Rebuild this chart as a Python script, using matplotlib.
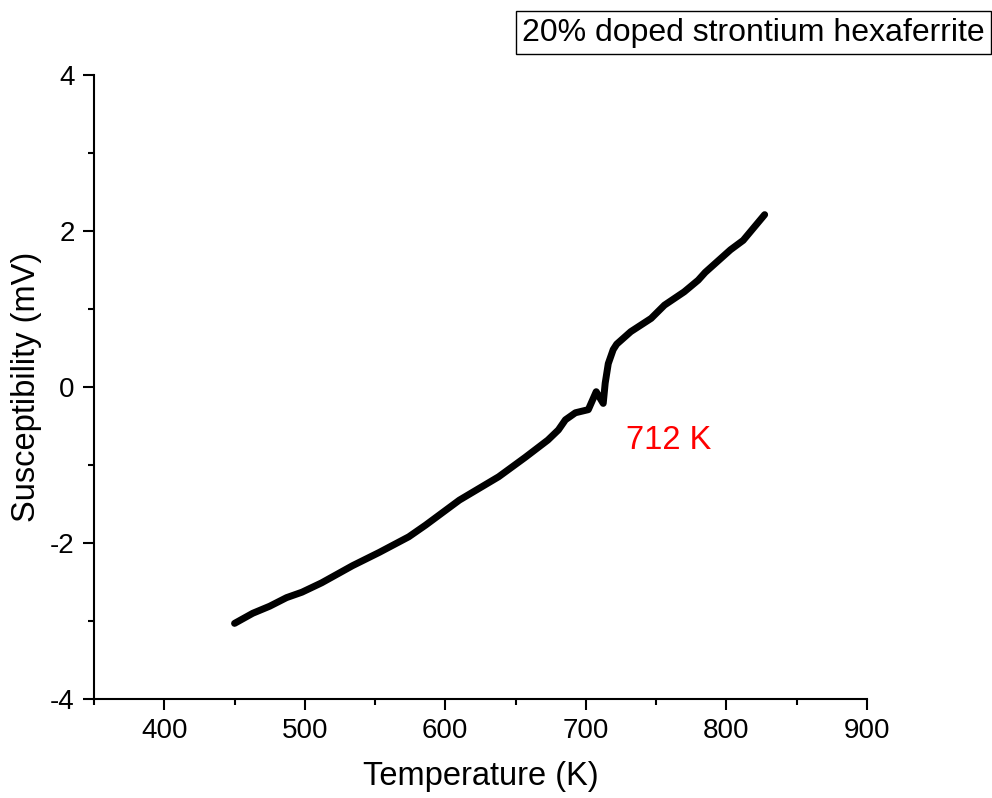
import matplotlib
matplotlib.use("Agg")
import matplotlib.pyplot as plt
from matplotlib.ticker import MultipleLocator

plt.rcParams['font.family'] = ['Liberation Sans', 'DejaVu Sans']
plt.rcParams['axes.unicode_minus'] = False

# values
temperature = [450, 463, 475, 487, 498, 512, 534, 553, 574, 586, 610, 638, 657, 673,
               680.5, 685.5, 692.6, 701.8, 707.4, 712.4, 713.8, 716, 719.5, 722,
               732, 746.5, 756, 770, 780, 785, 803, 812, 827.3]
susceptibility = [-3.03, -2.90, -2.81, -2.70, -2.63, -2.51, -2.29, -2.12, -1.92, -1.77,
                  -1.45, -1.15, -0.90, -0.68, -0.55, -0.42, -0.33, -0.29, -0.06, -0.21,
                  0.05, 0.30, 0.48, 0.55, 0.71, 0.88, 1.05, 1.22, 1.37, 1.47, 1.76,
                  1.88, 2.21]

fig = plt.figure(figsize=(9.92, 7.98), dpi=100)
ax = fig.add_axes([0.0948, 0.124, 0.779, 0.782])

ax.plot(temperature, susceptibility, color='black', linewidth=5,
        solid_capstyle='round', solid_joinstyle='round')

ax.set_xlim(350, 900)
ax.set_ylim(-4, 4)
ax.xaxis.set_major_locator(MultipleLocator(100))
ax.xaxis.set_minor_locator(MultipleLocator(50))
ax.yaxis.set_major_locator(MultipleLocator(2))
ax.yaxis.set_minor_locator(MultipleLocator(1))
ax.set_xticks([400, 500, 600, 700, 800, 900])

for side in ['top', 'right']:
    ax.spines[side].set_visible(False)
for side in ['left', 'bottom']:
    ax.spines[side].set_linewidth(1.5)

ax.tick_params(which='major', direction='out', length=8, width=1.5, labelsize=20, pad=6)
ax.tick_params(which='minor', direction='out', length=4, width=1.5)

ax.set_xlabel("Temperature (K)", fontsize=23.5, labelpad=12)
ax.set_ylabel("Susceptibility (mV)", fontsize=23.5, labelpad=6)

ax.text(728.7, -0.68, "712 K", color='red', fontsize=23.5, va='center')

fig.text(0.993, 0.959, "20% doped strontium hexaferrite", ha='right', va='center',
         fontsize=23, bbox=dict(boxstyle='square,pad=0.2', facecolor='white',
                                edgecolor='black', linewidth=1))

fig.savefig("out.png", dpi=100)
